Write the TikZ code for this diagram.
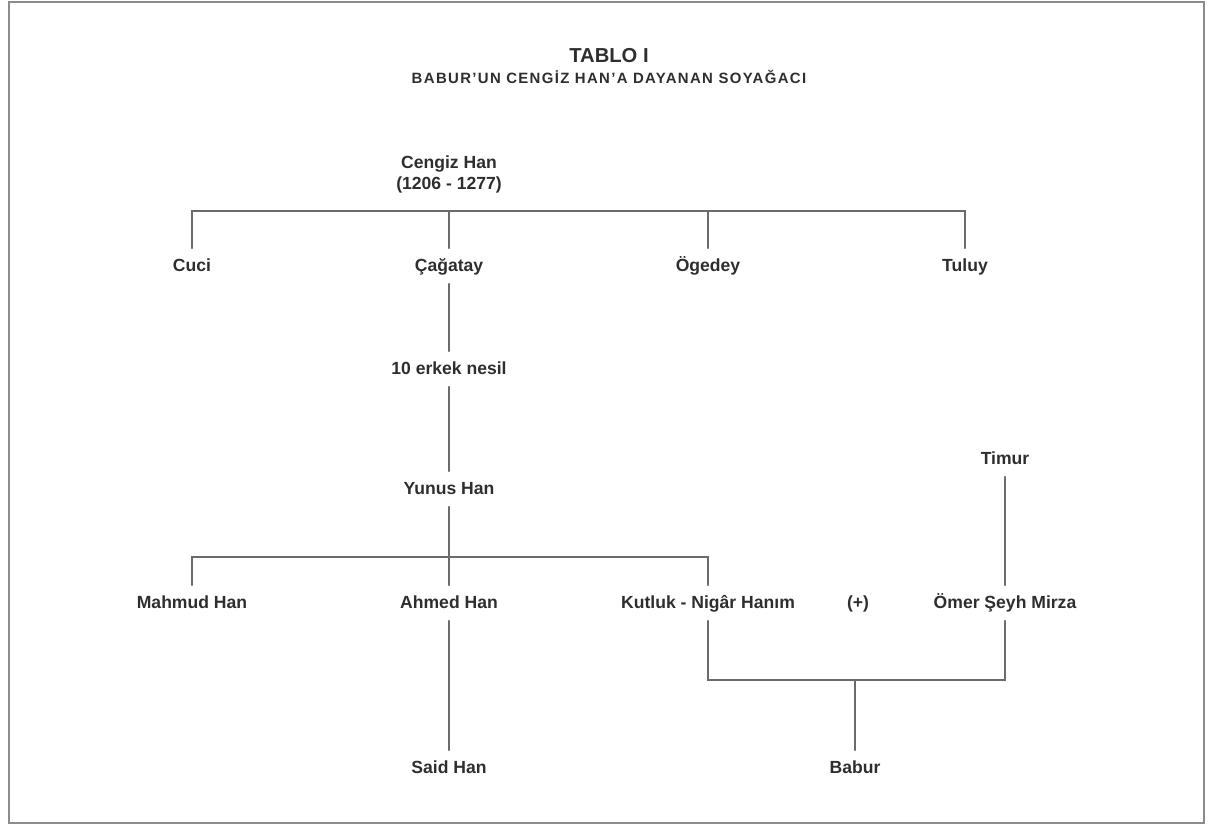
\documentclass[tikz,border=0pt]{standalone}
\usepackage{fontspec}
\setmainfont{Liberation Sans}

\begin{document}
\begin{tikzpicture}[x=0.02cm,y=-0.02cm,line cap=round,
    txt/.style={font=\bfseries\fontsize{10}{12}\selectfont,text=black!82},
    person/.style={txt,text height=8pt,text depth=2pt,inner xsep=2pt,inner ysep=5pt},
    link/.style={black!58,line width=1.1pt}]
  \useasboundingbox (0,0) rectangle (1219,826);
  \draw[black!45,line width=1.2pt] (9,2) rectangle (1204,823);

  \node[txt,font=\bfseries\fontsize{11.5}{14}\selectfont] (title) at (609,56) {TABLO I};
  \node[txt,font=\bfseries\fontsize{8.5}{10}\selectfont\addfontfeatures{LetterSpace=9}] (subtitle) at (609,77)
    {BABUR'UN CENGİZ HAN'A DAYANAN SOYAĞACI};

  \node[txt,align=center] (cengiz) at (449,174) {Cengiz Han\\(1206 - 1277)};

  \node[person] (cuci)    at (192,266) {Cuci};
  \node[person] (cagatay) at (449,266) {Çağatay};
  \node[person] (ogedey)  at (708,266) {Ögedey};
  \node[person] (tuluy)   at (965,266) {Tuluy};

  \node[person] (nesil) at (449,369) {10 erkek nesil};
  \node[person] (yunus) at (449,489) {Yunus Han};
  \node[person] (timur) at (1005,459) {Timur};

  \node[person] (mahmud) at (192,603) {Mahmud Han};
  \node[person] (ahmed)  at (449,603) {Ahmed Han};
  \node[person] (kutluk) at (708,603) {Kutluk - Nigâr Hanım};
  \node[person] (plus)   at (858,603) {(+)};
  \node[person] (omer)   at (1005,603) {Ömer Şeyh Mirza};

  \node[person] (said)  at (449,768) {Said Han};
  \node[person] (babur) at (855,768) {Babur};

  \coordinate (top) at (449,211);
  \coordinate (mid) at (449,557);
  \coordinate (low) at (853,680);

  \draw[link] (cuci.north) -- (cuci |- top) -- (tuluy |- top) -- (tuluy.north);
  \draw[link] (cagatay.north) -- (cagatay |- top);
  \draw[link] (ogedey.north) -- (ogedey |- top);

  \draw[link] (cagatay.south) -- (nesil.north);
  \draw[link] (nesil.south) -- (yunus.north);
  \draw[link] (yunus.south) -- (ahmed.north);
  \draw[link] (mahmud.north) -- (mahmud |- mid) -- (kutluk |- mid) -- (kutluk.north);
  \draw[link] (timur.south) -- (omer.north);

  \draw[link] (ahmed.south) -- (said.north);
  \draw[link] (kutluk.south) -- (kutluk |- low) -- (omer |- low) -- (omer.south);
  \draw[link] (babur.north) -- (babur |- low);
\end{tikzpicture}
\end{document}
